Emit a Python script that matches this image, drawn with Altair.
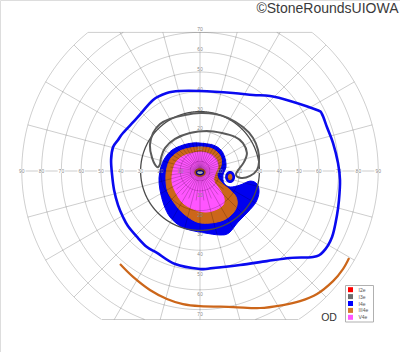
import altair as alt
import numpy as np
import pandas as pd

# ---------------- data (degrees of visual field) ----------------
# I4e outer isopter (closed)
i4e_line_x = [0, 16.7, 26.8, 35.4, 45.5, 59.1, 61.6, 64.1, 67.2, 69.7, 70.7, 70.2, 69.2, 66.7, 62.1, 57.1,
              45.5, 33.8, 20.2, 6.6, 0, -12.6, -21.7, -26.8, -31.8, -36.4, -38.9, -41.4, -43.4, -44.4,
              -44.9, -43.9, -41.4, -38.9, -31.8, -23.7, -16.7, -10.1]
i4e_line_y = [40.4, 39.4, 38.4, 37.9, 35.4, 30.8, 28.8, 22.2, 14.1, 4.0, -4.5, -14.6, -22.2, -33.3, -40.9, -43.4,
              -43.9, -45.5, -47.5, -49.0, -49.5, -47.0, -41.4, -38.4, -33.3, -27.8, -23.2, -17.2, -9.6, -2.0,
              5.6, 12.1, 15.7, 19.2, 26.8, 35.9, 39.4, 40.4]

# III4e inferior isopter (open)
iii4e_line_x = [-40.4, -33.8, -25.3, -16.7, -8.6, 0, 16.7, 30.3, 41.9, 50.5, 59.1, 67.2, 72.2, 75.3]
iii4e_line_y = [-47.0, -53.5, -60.1, -64.6, -67.2, -68.2, -68.7, -69.2, -67.7, -65.7, -62.1, -55.6, -49.5, -43.9]

# I3e isopter (closed loop)
i3e_x = [-21.7, -24.2, -25.3, -23.7, -20.2, -15.2, -7.6, 0, 7.6, 14.1, 21.7, 26.8, 29.3, 29.8, 28.8,
         25.3, 20.7, 18.2, 22.2, 23.7, 21.7, 17.7, 11.1, 3.5, -5.1, -12.6, -17.7, -19.7, -20.2]
i3e_y = [2.0, 6.6, 13.1, 19.2, 23.7, 26.3, 28.3, 29.3, 28.8, 26.8, 22.2, 16.7, 10.6, 4.5, 0.5,
         -2.5, -3.5, -1.5, 4.5, 9.1, 14.1, 17.2, 19.2, 20.2, 19.2, 16.2, 11.6, 6.6, 3.5]

# I4e central filled area
i4e_fill_x = [0, 6.6, 10.6, 12.6, 13.1, 11.6, 12.1, 15.2, 20.2, 25.3, 28.8, 29.8, 28.3, 24.2, 19.2, 14.6,
              10.1, 2.5, -5.1, -10.1, -15.2, -18.2, -20.2, -20.7, -19.7, -17.7, -14.1, -8.6, -4.0]
i4e_fill_y = [14.1, 13.1, 10.6, 6.6, 2.0, -2.0, -6.1, -8.1, -7.1, -5.1, -6.6, -10.6, -15.7, -20.7, -25.8, -31.3,
              -32.3, -31.3, -29.8, -27.8, -23.2, -17.2, -9.6, -3.5, 2.0, 6.6, 10.6, 13.1, 14.1]

# III4e central filled area
iii4e_fill_x = [0, 5.1, 8.6, 10.6, 10.6, 8.6, 11.1, 15.2, 18.2, 18.7, 16.7, 12.1, 5.1, -1.5, -8.1, -12.6,
                -16.2, -17.2, -16.7, -14.6, -10.1, -5.1]
iii4e_fill_y = [12.1, 11.6, 9.6, 6.6, 2.5, -2.0, -6.1, -9.6, -13.1, -17.2, -21.2, -24.7, -26.3, -25.8, -21.7, -16.7,
                -10.6, -4.5, 1.5, 6.6, 10.1, 11.6]

# V4e central filled area
v4e_fill_x = [0, 5.1, 8.1, 9.1, 7.6, 7.1, 10.1, 12.1, 11.6, 7.6, 2.5, -3.5, -8.6, -12.1, -14.1, -13.6, -11.6, -7.1]
v4e_fill_y = [9.6, 8.6, 6.1, 2.5, -1.5, -5.1, -9.6, -13.6, -17.2, -19.7, -20.7, -19.2, -16.2, -11.1, -5.6, 0.5, 5.1, 8.1]

# small island and fixation spot
island_x, island_y = [15.2], [-3.0]
fix_x, fix_y = [0.0], [-0.8]

legend_names = ["I2e", "I3e", "I4e", "III4e", "V4e"]
legend_colors = ["#ff0000", "#6e6e6e", "#0000ff", "#d27a2c", "#ff55ff"]

ring_radii = [10, 20, 30, 40, 50, 60, 70, 80, 90]
inner_rings = [5]
meridians = [a * 15 for a in range(24)]
inner_spokes = [a * 7.5 for a in range(48) if a % 2 == 1]
h_labels = [10, 20, 30, 40, 50, 60, 70, 80, 90]
v_labels = [10, 20, 30, 40, 50, 60, 70]

# ---------------- geometry / layout ----------------
S = 1.98           # px per degree
CX, CY = 200, 171  # centre in px
W, H = 400, 352
TOP, BOT = 70, -75

xdom = [-CX / S, (W - CX) / S]
ydom = [-(H - CY) / S, CY / S]
xs = alt.Scale(domain=xdom, nice=False, zero=False)
ys = alt.Scale(domain=ydom, nice=False, zero=False)


def XY(extra=None):
    d = dict(x=alt.X("x:Q", scale=xs, axis=None), y=alt.Y("y:Q", scale=ys, axis=None))
    if extra:
        d.update(extra)
    return d


rows = []
seg = [0]


def add_path(px, py, kind):
    seg[0] += 1
    for xi, yi in zip(px, py):
        rows.append((round(float(xi), 4), round(float(yi), 4), seg[0], len(rows), kind))


# rings (clipped arcs)
for r in ring_radii + inner_rings:
    th = np.radians(np.arange(0, 360.01, 0.25))
    x = r * np.cos(th)
    y = r * np.sin(th)
    inside = (y <= TOP) & (y >= BOT)
    cur_x, cur_y = [], []
    for xi, yi, ok in zip(x, y, inside):
        if ok:
            cur_x.append(xi)
            cur_y.append(yi)
        elif cur_x:
            add_path(cur_x, cur_y, r)
            cur_x, cur_y = [], []
    if cur_x:
        add_path(cur_x, cur_y, r)

# meridians (clipped to the chart frame)
for a in meridians:
    t = np.radians(a)
    s = np.sin(t)
    rmax = 90.0
    if s > 1e-9:
        rmax = min(rmax, TOP / s)
    elif s < -1e-9:
        rmax = min(rmax, BOT / s)
    add_path([0.3 * np.cos(t), rmax * np.cos(t)], [0.3 * np.sin(t), rmax * np.sin(t)], 0)
for a in inner_spokes:
    t = np.radians(a)
    add_path([1.5 * np.cos(t), 15 * np.cos(t)], [1.5 * np.sin(t), 15 * np.sin(t)], 0)
for yy in (TOP, BOT):
    hx = np.sqrt(90 ** 2 - yy ** 2)
    add_path([-hx, hx], [yy, yy], 0)

grid = pd.DataFrame(rows, columns=["x", "y", "seg", "o", "r"])

grid_layer = alt.Chart(grid[grid.r != 30]).mark_line(
    stroke="black", strokeOpacity=0.22, strokeWidth=0.9
).encode(**XY({"detail": "seg:N", "order": "o:Q"}))
ring30 = alt.Chart(grid[grid.r == 30]).mark_line(
    stroke="#4a4a4a", strokeWidth=1.3
).encode(**XY({"order": "o:Q"}))


def shape_df(xv, yv):
    return pd.DataFrame({"x": xv, "y": yv, "o": range(len(xv))})


def fill_layer(xv, yv, color):
    return alt.Chart(shape_df(xv, yv)).mark_line(
        fill=color, stroke=color, strokeWidth=1, interpolate="cardinal-closed"
    ).encode(**XY({"order": "o:Q"}))


blue_fill = fill_layer(i4e_fill_x, i4e_fill_y, "#0000f0")
orange_fill = fill_layer(iii4e_fill_x, iii4e_fill_y, "#cc661a")
pink_fill = fill_layer(v4e_fill_x, v4e_fill_y, "#ff55ff")

ell = "M -1 0 A 1 0.75 0 1 0 1 0 A 1 0.75 0 1 0 -1 0 Z"
ell_v = "M -0.83 0 A 0.83 1 0 1 0 0.83 0 A 0.83 1 0 1 0 -0.83 0 Z"
ell_small = "M -1 0 A 1 0.57 0 1 0 1 0 A 1 0.57 0 1 0 -1 0 Z"
ell_v2 = "M -0.71 0 A 0.71 1 0 1 0 0.71 0 A 0.71 1 0 1 0 -0.71 0 Z"

isl = pd.DataFrame({"x": island_x, "y": island_y})
fix = pd.DataFrame({"x": fix_x, "y": fix_y})
island_outer = alt.Chart(isl).mark_point(shape=ell_v, size=144, filled=True, fill="#0000f0", opacity=1, strokeWidth=0).encode(**XY())
island_inner = alt.Chart(isl).mark_point(shape=ell_v2, size=42, filled=True, fill="#cc661a", opacity=1, strokeWidth=0).encode(**XY())
fix_outer = alt.Chart(fix).mark_point(shape=ell, size=130, filled=True, fill="#cc661a", opacity=1, strokeWidth=0).encode(**XY())
fix_inner = alt.Chart(fix).mark_point(shape=ell_small, size=49, filled=False, fill="white", stroke="#0000c0", strokeWidth=1.2, opacity=1).encode(**XY())


def line_layer(xv, yv, color, width, closed):
    return alt.Chart(shape_df(xv, yv)).mark_line(
        stroke=color, strokeWidth=width,
        interpolate="cardinal-closed" if closed else "cardinal"
    ).encode(**XY({"order": "o:Q"}))


blue_line = line_layer(i4e_line_x, i4e_line_y, "#0a0af0", 2.6, True)
gray_line = line_layer(i3e_x, i3e_y, "#5a5a5a", 2.0, True)
orange_line = line_layer(iii4e_line_x, iii4e_line_y, "#cc661a", 2.2, False)

# axis labels
lab_rows = []
for r in h_labels:
    lab_rows.append((-r, 0.0, str(r), r >= 30))
    lab_rows.append((r, 0.0, str(r), r >= 20))
for r in v_labels:
    lab_rows.append((0.0, r + 3 / S, str(r), r >= 20))
    lab_rows.append((0.0, -r - 4 / S, str(r), r >= 40))
labs = pd.DataFrame(lab_rows, columns=["x", "y", "t", "box"])
box_path = "M -1 -0.55 L 1 -0.55 L 1 0.55 L -1 0.55 Z"
lab_boxes = alt.Chart(labs[labs.box]).mark_point(
    shape=box_path, size=56, filled=True, fill="white", opacity=1, strokeWidth=0
).encode(**XY())
lab_text = alt.Chart(labs).mark_text(
    font="Liberation Sans", fontSize=5, color="#8a8a8a", align="center", baseline="middle"
).encode(**XY({"text": "t:N"}))

# legend
leg_layers = [
    alt.Chart().mark_rect(fill="white", stroke="#b0b0b0", strokeWidth=1).encode(
        x=alt.value(345.5), x2=alt.value(373.5), y=alt.value(285.5), y2=alt.value(322)
    )
]
for i, (nm, col) in enumerate(zip(legend_names, legend_colors)):
    yy = 289.7 + i * 6.9
    leg_layers.append(
        alt.Chart().mark_rect(fill=col).encode(
            x=alt.value(348), x2=alt.value(353), y=alt.value(yy - 2.5), y2=alt.value(yy + 2.5)
        )
    )
    leg_layers.append(
        alt.Chart().mark_text(font="Liberation Sans", fontSize=5, color="#555", align="left",
                              baseline="middle", text=nm).encode(x=alt.value(358.5), y=alt.value(yy))
    )

od = alt.Chart().mark_text(font="Liberation Sans", fontSize=10.5, color="#333", align="center",
                           baseline="alphabetic", text="OD").encode(x=alt.value(329), y=alt.value(321))
copyright_ = alt.Chart().mark_text(font="Liberation Sans", fontSize=14, color="#3a3a3a", align="right",
                                   baseline="alphabetic", text="\u00a9StoneRoundsUIOWA").encode(
    x=alt.value(398.5), y=alt.value(13))

chart = alt.layer(
    blue_fill, orange_fill, pink_fill, island_outer, island_inner, fix_outer, fix_inner,
    grid_layer, ring30, lab_boxes, lab_text,
    gray_line, blue_line, orange_line,
    *leg_layers, od, copyright_
).properties(
    width=W, height=H, padding=0, autosize=alt.AutoSizeParams(type="none")
).configure_view(stroke=None).configure(background="white")

chart.save("out.html", embed_options={"renderer": "svg", "actions": False})
